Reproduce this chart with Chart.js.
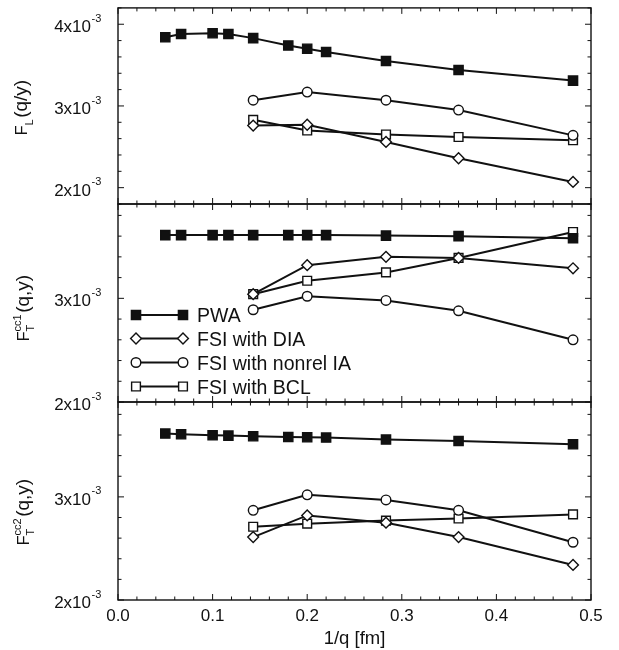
<!DOCTYPE html>
<html>
<head>
<meta charset="utf-8">
<script src="https://cdn.jsdelivr.net/npm/chart.js@4.4.1/dist/chart.umd.min.js"></script>
<style>
  html, body { margin: 0; padding: 0; background: #fff; }
  #wrap { position: relative; width: 619px; height: 650px; }
  #wrap canvas { position: absolute; left: 0; top: 0; }
</style>
</head>
<body>
<div id="wrap">
  <canvas id="c1" width="619" height="650"></canvas>
  <canvas id="c2" width="619" height="650"></canvas>
  <canvas id="c3" width="619" height="650"></canvas>
</div>
<script>
// ---------- data (x = 1/q in fm, y = response values) ----------
const xPWA = [0.05, 0.0667, 0.1, 0.1167, 0.1429, 0.18, 0.2, 0.22, 0.2833, 0.36, 0.481];
const xFSI = [0.1429, 0.2, 0.2833, 0.36, 0.481];

const seriesNames = ['PWA', 'FSI with DIA', 'FSI with nonrel IA', 'FSI with BCL'];
const xTickLabels = ['0.0', '0.1', '0.2', '0.3', '0.4', '0.5'];

// panel 1: F_L(q/y)
const pwaL    = [3.84e-3, 3.88e-3, 3.89e-3, 3.88e-3, 3.83e-3, 3.74e-3, 3.70e-3, 3.66e-3, 3.55e-3, 3.44e-3, 3.31e-3];
const diaL    = [2.76e-3, 2.77e-3, 2.56e-3, 2.36e-3, 2.07e-3];
const nonrelL = [3.07e-3, 3.17e-3, 3.07e-3, 2.95e-3, 2.64e-3];
const bclL    = [2.83e-3, 2.70e-3, 2.65e-3, 2.62e-3, 2.58e-3];

// panel 2: F_T^cc1(q,y)
const pwaT1    = [3.61e-3, 3.61e-3, 3.61e-3, 3.61e-3, 3.61e-3, 3.61e-3, 3.61e-3, 3.61e-3, 3.605e-3, 3.60e-3, 3.58e-3];
const diaT1    = [3.04e-3, 3.32e-3, 3.40e-3, 3.39e-3, 3.29e-3];
const nonrelT1 = [2.89e-3, 3.02e-3, 2.98e-3, 2.88e-3, 2.60e-3];
const bclT1    = [3.04e-3, 3.17e-3, 3.25e-3, 3.39e-3, 3.64e-3];

// panel 3: F_T^cc2(q,y)
const pwaT2    = [3.614e-3, 3.607e-3, 3.597e-3, 3.594e-3, 3.588e-3, 3.581e-3, 3.578e-3, 3.575e-3, 3.556e-3, 3.542e-3, 3.51e-3];
const diaT2    = [2.61e-3, 2.82e-3, 2.75e-3, 2.61e-3, 2.34e-3];
const nonrelT2 = [2.87e-3, 3.02e-3, 2.97e-3, 2.87e-3, 2.56e-3];
const bclT2    = [2.71e-3, 2.74e-3, 2.77e-3, 2.79e-3, 2.83e-3];

// ---------- styling ----------
const FONT = '"Liberation Sans", Arial, Helvetica, sans-serif';
const INK = '#111';
const styles = [
  { pointStyle: 'rect',    pointRadius: 6.5, fill: INK },
  { pointStyle: 'rectRot', pointRadius: 5.4, fill: '#fff' },
  { pointStyle: 'circle',  pointRadius: 4.8, fill: '#fff' },
  { pointStyle: 'rect',    pointRadius: 6.2, fill: '#fff' }
];

function pts(xs, ys) { return xs.map((x, i) => ({ x: x, y: ys[i] })); }

function makeDatasets(arrs) {
  const xs = [xPWA, xFSI, xFSI, xFSI];
  return arrs.map((ys, i) => ({
    label: seriesNames[i],
    data: pts(xs[i], ys),
    showLine: true,
    borderColor: INK,
    borderWidth: 2,
    backgroundColor: styles[i].fill,
    pointBackgroundColor: styles[i].fill,
    pointBorderColor: INK,
    pointBorderWidth: 1.4,
    pointStyle: styles[i].pointStyle,
    pointRadius: styles[i].pointRadius,
    pointHoverRadius: styles[i].pointRadius,
    tension: 0,
    fill: false,
    clip: false
  }));
}

function drawMarker(ctx, style, x, y) {
  const r = style.pointRadius;
  ctx.save();
  ctx.fillStyle = style.fill;
  ctx.strokeStyle = INK;
  ctx.lineWidth = 1.4;
  ctx.beginPath();
  if (style.pointStyle === 'rect') {
    const s = Math.SQRT1_2 * r;
    ctx.rect(x - s, y - s, 2 * s, 2 * s);
  } else if (style.pointStyle === 'rectRot') {
    ctx.moveTo(x - r, y); ctx.lineTo(x, y - r); ctx.lineTo(x + r, y); ctx.lineTo(x, y + r); ctx.closePath();
  } else {
    ctx.arc(x, y, r, 0, Math.PI * 2);
  }
  ctx.fill();
  ctx.stroke();
  ctx.restore();
}

function drawYTitle(ctx, bx, cy, sub, sup, rest) {
  ctx.save();
  ctx.translate(bx, cy);
  ctx.rotate(-Math.PI / 2);
  ctx.fillStyle = INK;
  ctx.textBaseline = 'alphabetic';
  ctx.textAlign = 'left';
  const fF = '16px ' + FONT, big = '19px ' + FONT, small = '11px ' + FONT;
  ctx.font = fF; const wF = ctx.measureText('F').width;
  ctx.font = big; const wR = ctx.measureText(rest).width;
  ctx.font = small;
  const wSub = ctx.measureText(sub).width;
  const wSup = sup ? ctx.measureText(sup).width : 0;
  const wMid = Math.max(wSub, wSup) + 1.5;
  const total = wF + wMid + wR;
  let x0 = -total / 2;
  ctx.font = fF; ctx.fillText('F', x0, 0);
  ctx.font = small; ctx.fillText(sub, x0 + wF, 5.5);
  if (sup) ctx.fillText(sup, x0 + wF, -8);
  ctx.font = big; ctx.fillText(rest, x0 + wF + wMid, 0);
  ctx.restore();
}

const panelPlugin = {
  id: 'panelDeco',
  beforeDatasetsDraw(chart, args, opts) {
    const ctx = chart.ctx, a = chart.chartArea;
    const xs = chart.scales.x, ys = chart.scales.y;
    ctx.save();
    ctx.strokeStyle = INK;
    ctx.lineWidth = 1.4;
    ctx.strokeRect(a.left, a.top, a.right - a.left, a.bottom - a.top);
    ctx.lineWidth = 1;
    ctx.beginPath();
    for (let i = 0; i <= 25; i++) {
      const px = xs.getPixelForValue(i * 0.02);
      const len = (i % 5 === 0) ? 6 : 3.5;
      ctx.moveTo(px, a.bottom); ctx.lineTo(px, a.bottom - len);
      ctx.moveTo(px, a.top); ctx.lineTo(px, a.top + len);
    }
    const kMin = Math.ceil(ys.min / 0.2e-3 - 1e-6), kMax = Math.floor(ys.max / 0.2e-3 + 1e-6);
    for (let k = kMin; k <= kMax; k++) {
      const py = ys.getPixelForValue(k * 0.2e-3);
      const len = (k % 5 === 0) ? 6 : 3.5;
      ctx.moveTo(a.left, py); ctx.lineTo(a.left + len, py);
      ctx.moveTo(a.right, py); ctx.lineTo(a.right - len, py);
    }
    ctx.stroke();
    ctx.restore();
  },
  afterDraw(chart, args, opts) {
    const ctx = chart.ctx, a = chart.chartArea;
    const xs = chart.scales.x, ys = chart.scales.y;
    ctx.save();
    ctx.fillStyle = INK;
    // y tick labels  (m x 10^-3)
    const kMin = Math.ceil(ys.min / 1e-3 - 1e-6), kMax = Math.floor(ys.max / 1e-3 + 1e-6);
    for (let k = kMin; k <= kMax; k++) {
      const py = ys.getPixelForValue(k * 1e-3);
      ctx.font = '17px ' + FONT;
      ctx.textAlign = 'right'; ctx.textBaseline = 'alphabetic';
      ctx.fillText(k + 'x10', 91, py + 8);
      ctx.font = '11px ' + FONT;
      ctx.textAlign = 'left';
      ctx.fillText('-3', 91.5, py - 2.4);
    }
    // y title
    drawYTitle(ctx, opts.titleX, opts.titleY, opts.sub, opts.sup, opts.rest);
    // x labels
    if (opts.xLabels) {
      ctx.font = '17px ' + FONT;
      ctx.textAlign = 'center'; ctx.textBaseline = 'alphabetic';
      xTickLabels.forEach((t) => {
        ctx.fillText(t, xs.getPixelForValue(parseFloat(t)), a.bottom + 20.5);
      });
      ctx.font = '18.5px ' + FONT;
      ctx.fillText('1/q [fm]', (a.left + a.right) / 2, a.bottom + 44);
    }
    // legend
    if (opts.legend) {
      const lx0 = 136, lx1 = 183, ly = [315, 338.5, 362.5, 386.5];
      seriesNames.forEach((name, i) => {
        ctx.strokeStyle = INK; ctx.lineWidth = 2;
        ctx.beginPath(); ctx.moveTo(lx0, ly[i]); ctx.lineTo(lx1, ly[i]); ctx.stroke();
        drawMarker(ctx, styles[i], lx0, ly[i]);
        drawMarker(ctx, styles[i], lx1, ly[i]);
        ctx.fillStyle = INK;
        ctx.font = '19.5px ' + FONT;
        ctx.textAlign = 'left'; ctx.textBaseline = 'alphabetic';
        ctx.fillText(name, 197, ly[i] + 7);
      });
    }
    ctx.restore();
  }
};

function makeChart(id, top, bottom, yMin, yMax, arrs, deco) {
  return new Chart(document.getElementById(id), {
    type: 'scatter',
    data: { datasets: makeDatasets(arrs) },
    options: {
      responsive: false,
      animation: false,
      devicePixelRatio: 1,
      events: [],
      layout: { padding: { left: 118, right: 619 - 591, top: top, bottom: 650 - bottom } },
      scales: {
        x: { type: 'linear', min: 0, max: 0.5, display: false },
        y: { type: 'linear', min: yMin, max: yMax, display: false }
      },
      plugins: { legend: { display: false }, tooltip: { enabled: false }, title: { display: false }, panelDeco: deco }
    },
    plugins: [panelPlugin]
  });
}

makeChart('c1', 7, 204, 1.8e-3, 4.2e-3, [pwaL, diaL, nonrelL, bclL],
  { titleX: 27, titleY: 107.5, sub: 'L', sup: '', rest: '(q/y)', xLabels: false, legend: false });
makeChart('c2', 204, 402, 2.0e-3, 3.91e-3, [pwaT1, diaT1, nonrelT1, bclT1],
  { titleX: 28.5, titleY: 308, sub: 'T', sup: 'cc1', rest: '(q,y)', xLabels: false, legend: true });
makeChart('c3', 402, 600, 2.0e-3, 3.92e-3, [pwaT2, diaT2, nonrelT2, bclT2],
  { titleX: 28.5, titleY: 512, sub: 'T', sup: 'cc2', rest: '(q,y)', xLabels: true, legend: false });
</script>
</body>
</html>
